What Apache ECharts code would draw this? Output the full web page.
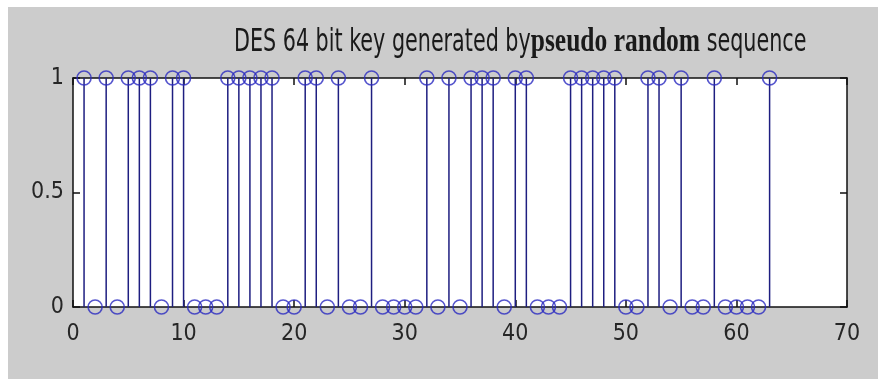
<!DOCTYPE html>
<html>
<head>
<meta charset="utf-8">
<script src="https://cdn.jsdelivr.net/npm/echarts@6/dist/echarts.min.js"></script>
<style>
html,body{margin:0;padding:0;background:#ffffff;}
#bg{position:absolute;left:8px;top:7px;width:870px;height:372px;background:#cccccc;}
#chart{position:absolute;left:0;top:0;width:882px;height:381px;}
</style>
</head>
<body>
<div id="bg"></div>
<div id="chart"></div>
<script>
// Bit index 1..63 and bit values
const bitIndex = [1,2,3,4,5,6,7,8,9,10,11,12,13,14,15,16,17,18,19,20,21,22,23,24,25,26,27,28,29,30,31,32,33,34,35,36,37,38,39,40,41,42,43,44,45,46,47,48,49,50,51,52,53,54,55,56,57,58,59,60,61,62,63];
const bitValues = [1,0,1,0,1,1,1,0,1,1,0,0,0,1,1,1,1,1,0,0,1,1,0,1,0,0,1,0,0,0,0,1,0,1,0,1,1,1,0,1,1,0,0,0,1,1,1,1,1,0,0,1,1,0,1,0,0,1,0,0,0,0,1];
const xTicks = [0,10,20,30,40,50,60,70];
const yTicks = [0,0.5,1];
const titleParts = ['DES 64 bit key generated by', 'pseudo random', 'sequence'];

const points = bitIndex.map((x, i) => [x, bitValues[i]]);

const chart = echarts.init(document.getElementById('chart'), null, {renderer: 'canvas'});
const axisColor = '#111111';
const sansNarrow = '"DejaVu Sans Condensed", "Liberation Sans Narrow", "Liberation Sans", sans-serif';
const labelFont = {fontFamily: sansNarrow, fontSize: 23, color: '#262626'};

chart.setOption({
  animation: false,
  backgroundColor: 'transparent',
  graphic: [{
    type: 'text',
    x: 234, y: 60,
    scaleY: 1.35,
    z: 10,
    style: {
      text: '{a|' + titleParts[0] + '}{b|' + titleParts[1] + '}{a| ' + titleParts[2] + '}',
      verticalAlign: 'bottom',
      rich: {
        a: {fontFamily: sansNarrow, fontSize: 23, fontWeight: 'normal', fill: '#1a1a1a'},
        b: {fontFamily: 'Liberation Serif', fontSize: 25.5, fontWeight: 'bold', fill: '#1a1a1a'}
      }
    }
  }],
  grid: {left: 73, right: 35, top: 78, bottom: 74, show: true, backgroundColor: '#ffffff', borderWidth: 0},
  xAxis: [
    {type: 'value', min: 0, max: 70, interval: 10, position: 'bottom',
     axisLine: {show: true, onZero: false, lineStyle: {color: axisColor, width: 1.5}},
     axisTick: {show: true, inside: true, length: 7, lineStyle: {color: axisColor, width: 1.5}},
     axisLabel: Object.assign({margin: 16, formatter: v => xTicks.includes(v) ? String(v) : ''}, labelFont),
     splitLine: {show: false}},
    {type: 'value', min: 0, max: 70, interval: 10, position: 'top',
     axisLine: {show: true, onZero: false, lineStyle: {color: axisColor, width: 1.5}},
     axisTick: {show: true, inside: true, length: 7, lineStyle: {color: axisColor, width: 1.5}},
     axisLabel: {show: false}, splitLine: {show: false}}
  ],
  yAxis: [
    {type: 'value', min: 0, max: 1, interval: 0.5, position: 'left',
     axisLine: {show: true, onZero: false, lineStyle: {color: axisColor, width: 1.5}},
     axisTick: {show: true, inside: true, length: 7, lineStyle: {color: axisColor, width: 1.5}},
     axisLabel: Object.assign({margin: 9, formatter: v => yTicks.includes(v) ? String(v) : ''}, labelFont),
     splitLine: {show: false}},
    {type: 'value', min: 0, max: 1, interval: 0.5, position: 'right',
     axisLine: {show: true, onZero: false, lineStyle: {color: axisColor, width: 1.5}},
     axisTick: {show: true, inside: true, length: 7, lineStyle: {color: axisColor, width: 1.5}},
     axisLabel: {show: false}, splitLine: {show: false}}
  ],
  series: [
    {
      type: 'custom',
      xAxisIndex: 0, yAxisIndex: 0,
      data: points,
      renderItem: function (params, api) {
        const p0 = api.coord([api.value(0), 0]);
        const p1 = api.coord([api.value(0), api.value(1)]);
        return {type: 'line', shape: {x1: p0[0], y1: p0[1], x2: p1[0], y2: p1[1]},
                style: {stroke: '#1e1e80', lineWidth: 1.5}};
      },
      z: 3
    },
    {
      type: 'scatter',
      xAxisIndex: 0, yAxisIndex: 0,
      data: points,
      symbol: 'circle',
      symbolSize: 14,
      clip: false,
      itemStyle: {color: 'rgba(0,0,0,0)', borderColor: '#2a2ac0', borderWidth: 1.6, borderType: 'solid'},
      z: 4
    }
  ]
});
</script>
</body>
</html>
